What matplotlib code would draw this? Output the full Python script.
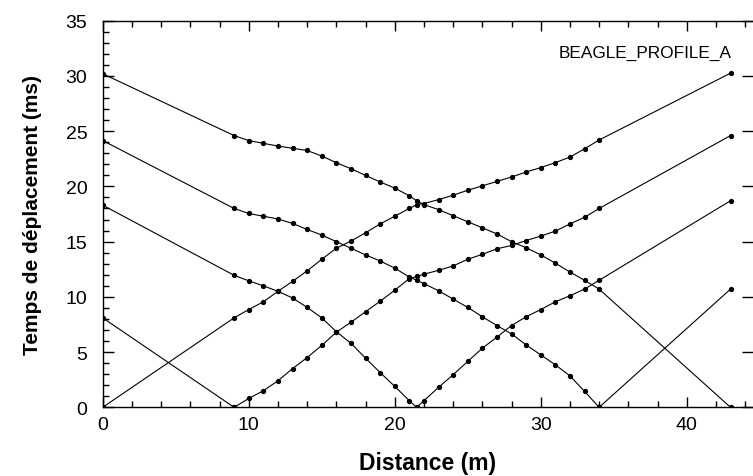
import numpy as np
import matplotlib
matplotlib.use("Agg")
import matplotlib.pyplot as plt
from matplotlib.ticker import MultipleLocator

plt.rcParams['font.family'] = ['Liberation Sans', 'DejaVu Sans']

# geophone positions (m)
xg = [9, 10, 11, 12, 13, 14, 15, 16, 17, 18, 19, 20, 21, 21.5, 22,
      23, 24, 25, 26, 27, 28, 29, 30, 31, 32, 33, 34]

# shot at 43 m, reverse branch
x_a = [0] + xg + [43]
t_a = [30.2, 24.6, 24.15, 23.9, 23.65, 23.45, 23.25, 22.75, 22.15, 21.6, 21.0,
       20.4, 19.85, 19.15, 18.7, 18.35, 17.9, 17.35, 16.8, 16.25, 15.7, 15.0,
       14.45, 13.8, 13.05, 12.25, 11.5, 10.7, 0]
# shot at 34 m, reverse branch
x_b = [0] + xg
t_b = [24.15, 18.0, 17.55, 17.3, 17.05, 16.65, 16.1, 15.6, 15.0, 14.4, 13.8,
       13.25, 12.6, 11.8, 11.5, 11.2, 10.55, 9.8, 9.05, 8.2, 7.4, 6.65, 5.65,
       4.75, 3.85, 2.85, 1.45, 0]
# shot at 21.5 m, reverse branch
x_c = [0] + xg[:14]
t_c = [18.3, 11.95, 11.45, 11.0, 10.5, 9.9, 9.05, 8.1, 6.85, 5.8, 4.45, 3.15,
       1.9, 0.6, 0]
# shot at 9 m, reverse branch
x_e = [0, 9]
t_e = [8.1, 0]
# shot at 0 m, forward branch
x_d = [0] + xg + [43]
t_d = [0, 8.1, 8.85, 9.55, 10.5, 11.4, 12.35, 13.4, 14.4, 15.05, 15.8, 16.6,
       17.3, 18.0, 18.35, 18.45, 18.8, 19.2, 19.65, 20.05, 20.45, 20.85, 21.3,
       21.7, 22.15, 22.65, 23.4, 24.2, 30.25]
# shot at 9 m, forward branch
x_f = xg + [43]
t_f = [0, 0.8, 1.5, 2.4, 3.5, 4.5, 5.6, 6.8, 7.7, 8.65, 9.6, 10.6, 11.65,
       11.85, 12.05, 12.4, 12.8, 13.4, 13.85, 14.35, 14.65, 15.1, 15.5, 15.95,
       16.6, 17.2, 18.0, 24.6]
# shot at 21.5 m, forward branch
x_g = xg[13:] + [43]
t_g = [0, 0.6, 1.8, 2.95, 4.15, 5.35, 6.35, 7.4, 8.2, 8.85, 9.55, 10.1, 10.7,
       11.5, 18.7]
# shot at 34 m, forward branch
x_k = [34, 43]
t_k = [0, 10.7]

branches = [(x_a, t_a), (x_b, t_b), (x_c, t_c), (x_e, t_e),
            (x_d, t_d), (x_f, t_f), (x_g, t_g), (x_k, t_k)]

fig = plt.figure(figsize=(7.53, 4.77), dpi=100)
ax = fig.add_axes([0.1364, 0.144, 1 - 0.1364, 0.8105])

for xs, ts in branches:
    ax.plot(xs, ts, '-o', color='black', lw=0.8, ms=2.8)

ax.set_xlim(0, 44.54)
ax.set_ylim(0, 35)
ax.xaxis.set_major_locator(MultipleLocator(10))
ax.xaxis.set_minor_locator(MultipleLocator(2))
ax.yaxis.set_major_locator(MultipleLocator(5))
ax.yaxis.set_minor_locator(MultipleLocator(1))

ax.spines['right'].set_visible(False)
for s in ['left', 'bottom', 'top']:
    ax.spines[s].set_linewidth(1.0)

ax.tick_params(which='both', direction='in', top=True, right=True,
               labelsize=14, width=1.0)
ax.tick_params(axis='x', which='major', length=7, pad=6)
ax.tick_params(axis='x', which='minor', length=4)
ax.tick_params(axis='y', which='major', length=8, pad=11)
ax.tick_params(axis='y', which='minor', length=4.5, right=False)

ax.set_xlabel('Distance (m)', fontsize=16.5, fontweight='bold', labelpad=13)
ax.set_ylabel('Temps de déplacement (ms)', fontsize=15, fontweight='bold',
              labelpad=17)

ax.text(43.1, 32.1, 'BEAGLE_PROFILE_A', ha='right', va='center', fontsize=12.4)

fig.savefig('out.png', dpi=100)
